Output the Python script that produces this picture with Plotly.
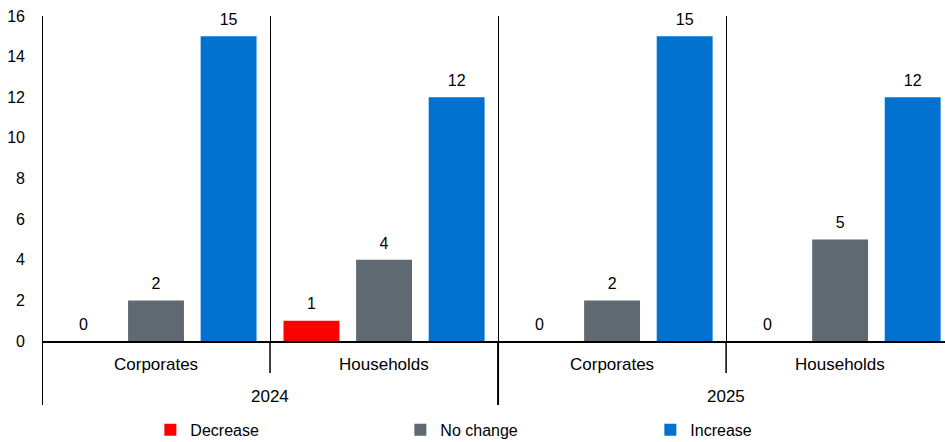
import plotly.graph_objects as go

years = ["2024", "2024", "2025", "2025"]
sectors = ["Corporates", "Households", "Corporates", "Households"]
decrease = [0, 1, 0, 0]
no_change = [2, 4, 2, 5]
increase = [15, 12, 15, 12]
y_ticks = [0, 2, 4, 6, 8, 10, 12, 14, 16]

FONT = "Liberation Sans, Arial, sans-serif"
x = [years, sectors]
PLOT_H = 442 - 16 - 101  # plot-area height in px
GAP = 0.045

series = [("Decrease", decrease, "#FF0000"),
          ("No change", no_change, "#5E6971"),
          ("Increase", increase, "#0071CE")]

fig = go.Figure()
for name, vals, color in series:
    fig.add_trace(go.Bar(
        x=x, y=vals, name=name, marker_color=color,
        marker_line_width=0, cliponaxis=False,
    ))
# value labels, grouped the same way as the bars
for name, vals, color in series:
    fig.add_trace(go.Scatter(
        x=x, y=vals, mode="markers+text", name=name + " label",
        marker=dict(size=10, color="rgba(0,0,0,0)"),
        text=[str(v) for v in vals], textposition="top center",
        textfont=dict(size=16, color="#000000", family=FONT),
        showlegend=False, hoverinfo="skip", cliponaxis=False,
    ))

# category labels (inner level) and year labels (outer level)
for i, s in enumerate(sectors):
    fig.add_annotation(x=i, xref="x", y=-23 / PLOT_H, yref="paper", text=s,
                       showarrow=False, yanchor="middle",
                       font=dict(size=17, family=FONT, color="#000000"))
uniq_years = []
for yv in years:
    if yv not in uniq_years:
        uniq_years.append(yv)
for yv in uniq_years:
    idx = [i for i, v in enumerate(years) if v == yv]
    fig.add_annotation(x=(idx[0] + idx[-1]) / 2, xref="x", y=-55 / PLOT_H, yref="paper",
                       text=yv, showarrow=False, yanchor="middle",
                       font=dict(size=17, family=FONT, color="#000000"))

# divider lines below the axis: short between sectors, long between years
for b in range(len(sectors) + 1):
    pos = b - 0.5
    is_year_edge = b == 0 or b == len(sectors) or years[b] != years[b - 1]
    depth = 64 if is_year_edge else 32
    top = 1 if b == 0 else 0
    fig.add_shape(type="line", xref="x", yref="paper", x0=pos, x1=pos,
                  y0=top, y1=-depth / PLOT_H,
                  line=dict(color="#000000", width=2 if is_year_edge else 1.5))

fig.update_layout(
    barmode="group", bargap=GAP, bargroupgap=0.23,
    scattermode="group", scattergap=GAP,
    width=945, height=442,
    margin=dict(l=42, r=0, t=16, b=101, autoexpand=False),
    paper_bgcolor="white", plot_bgcolor="white",
    font=dict(family=FONT, size=16, color="#000000"),
    showlegend=True,
    legend=dict(orientation="h", x=0.12, xanchor="left",
                yref="container", y=0.066, yanchor="top",
                entrywidth=205, entrywidthmode="pixels",
                font=dict(size=16, family=FONT, color="#000000"),
                itemclick=False, traceorder="normal"),
)

fig.update_xaxes(
    type="multicategory", automargin=False,
    range=[-0.5, 3.46],
    showticklabels=False, showdividers=False,
    showline=True, linecolor="#000000", linewidth=2,
    showgrid=True, gridcolor="#000000", gridwidth=1,
    tickson="boundaries", ticks="",
    zeroline=False,
)
fig.update_yaxes(
    range=[0, 16], tickvals=y_ticks, ticktext=[str(v) for v in y_ticks],
    showgrid=False, zeroline=False, showline=False, automargin=False,
    ticks="", tickfont=dict(size=16, family=FONT, color="#000000"),
    ticklabelstandoff=16,
)

fig.write_html("out.html")
